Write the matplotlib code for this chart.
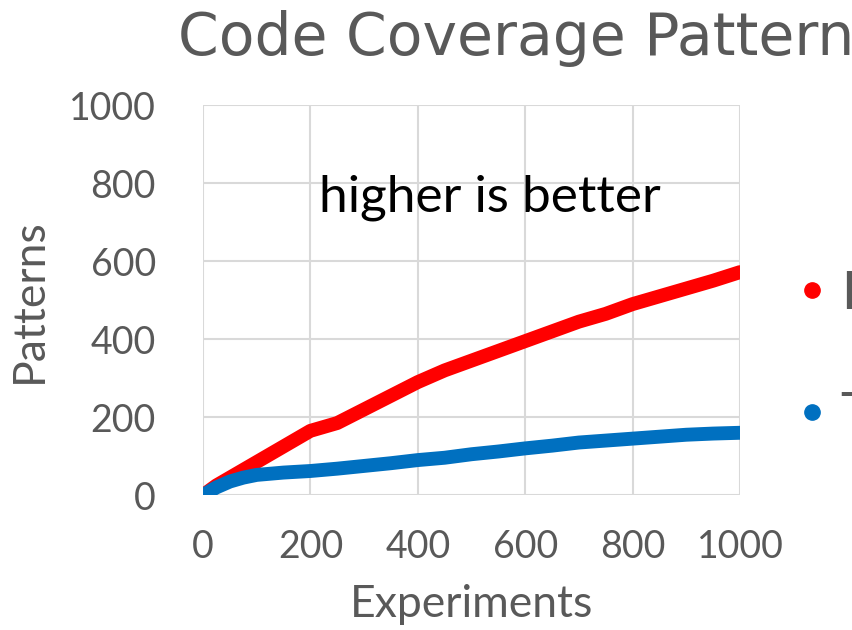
import matplotlib
matplotlib.use("Agg")
import matplotlib.pyplot as plt
from matplotlib.lines import Line2D

# Sampled pattern counts along the experiment axis
experiments = [0, 25, 50, 75, 100, 150, 200, 250, 300, 350, 400, 450, 500,
               550, 600, 650, 700, 750, 800, 850, 900, 950, 1000]
existing_patterns = [0, 25, 45, 65, 85, 125, 165, 185, 220, 255, 290, 320, 345,
                     370, 395, 420, 445, 465, 490, 510, 530, 550, 572]
tool_patterns = [0, 20, 35, 45, 52, 58, 62, 68, 75, 82, 90, 96, 105,
                 112, 120, 127, 135, 140, 145, 150, 155, 158, 160]

series_names = ["Existing", "This work"]
x_ticks = [0, 200, 400, 600, 800, 1000]
y_ticks = [0, 200, 400, 600, 800, 1000]

GRAY = "#595959"
RED = "#ff0000"
BLUE = "#0070c0"
FONT = "Lato"

fig = plt.figure(figsize=(8.53, 6.30), dpi=100)
ax = fig.add_axes([0.238, 0.214, 0.6295, 0.619])

ax.plot(experiments, existing_patterns, color=RED, lw=10,
        solid_capstyle="round", solid_joinstyle="round")
ax.plot(experiments, tool_patterns, color=BLUE, lw=10,
        solid_capstyle="round", solid_joinstyle="round")

ax.set_xlim(0, 1000)
ax.set_ylim(0, 1000)
ax.set_xticks(x_ticks)
ax.set_yticks(y_ticks)
ax.tick_params(axis="y", length=0, labelsize=27, labelcolor=GRAY, pad=34)
ax.tick_params(axis="x", length=0, labelsize=27, labelcolor=GRAY, pad=24)
for lbl in ax.get_xticklabels() + ax.get_yticklabels():
    lbl.set_fontfamily(FONT)
ax.grid(True, color="#d9d9d9", lw=1.5)
ax.set_axisbelow(True)
for s in ax.spines.values():
    s.set_visible(False)

ax.set_xlabel("Experiments", fontsize=32, color=GRAY, family=FONT, labelpad=14)
ax.set_ylabel("Patterns", fontsize=32, color=GRAY, family=FONT, labelpad=14)

ax.text(534, 728, "higher is better", ha="center", va="baseline",
        fontsize=37, color="black", family=FONT)

fig.text(178 / 853, 1 - 55 / 630, "Code Coverage Pattern", ha="left",
         va="baseline", fontsize=42, color=GRAY, family="DejaVu Sans")

handles = [Line2D([], [], ls="none", marker="o", markersize=11, color=RED),
           Line2D([], [], ls="none", marker="o", markersize=11, color=BLUE)]
ax.legend(handles, series_names, loc="center left",
          bbox_to_anchor=(1.021, 0.36), frameon=False, labelcolor=GRAY,
          prop={"family": FONT, "size": 38}, handlelength=0.5,
          handletextpad=0.3, labelspacing=1.4)

fig.savefig("out.png", dpi=100)
